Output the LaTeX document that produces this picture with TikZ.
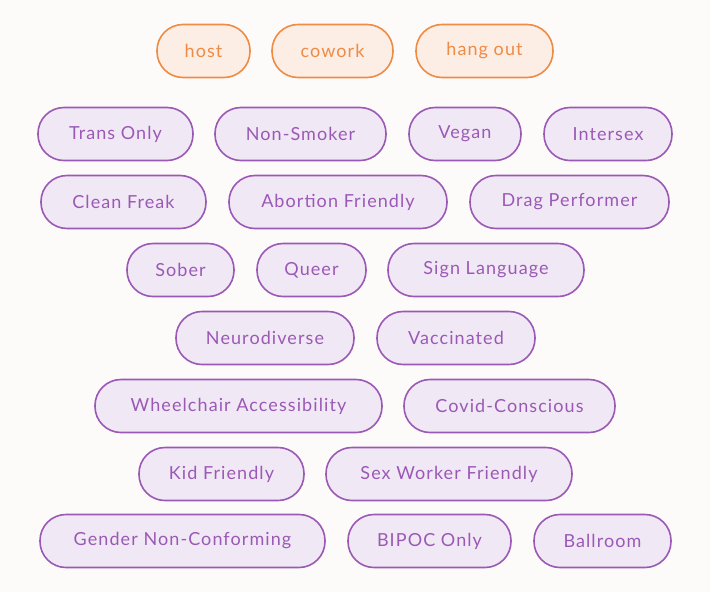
\documentclass[tikz,border=0pt]{standalone}
\usepackage{fontspec}
\setmainfont{Lato}[LetterSpace=6]
\definecolor{bgc}{HTML}{FDFBFA}
\definecolor{orfill}{HTML}{FDEEE5}
\definecolor{ordraw}{HTML}{EE8B45}
\definecolor{pufill}{HTML}{F1E8F5}
\definecolor{pudraw}{HTML}{9B59B6}
\tikzset{
  pill/.style={draw=pudraw, fill=pufill, text=pudraw, line width=1.6pt,
    rounded corners=26pt, minimum height=53pt, inner sep=0pt,
    font=\fontsize{18}{20}\selectfont},
  hostpill/.style={pill, draw=ordraw, fill=orfill, text=ordraw}
}
\begin{document}
\begin{tikzpicture}[x=1pt,y=-1pt]
\fill[bgc] (0,0) rectangle (710,592);
% top row
\node[hostpill, minimum width=93pt] (host) at (203.5,51) {host};
\node[hostpill, minimum width=121pt] (cowork) at (332.5,51) {cowork};
\node[hostpill, minimum width=137pt] (hangout) at (484.5,51) {hang out};
% tags
\node[pill, minimum width=155pt] (trans) at (115.5,134) {Trans Only};
\node[pill, minimum width=171pt] (smoker) at (300.5,134) {Non-Smoker};
\node[pill, minimum width=112pt] (vegan) at (465,134) {Vegan};
\node[pill, minimum width=128pt] (intersex) at (608,134) {Intersex};
\node[pill, minimum width=165pt] (clean) at (123.5,202) {Clean Freak};
\node[pill, minimum width=218pt] (abortion) at (338,202) {Abortion Friendly};
\node[pill, minimum width=199pt] (drag) at (569.5,202) {Drag Performer};
\node[pill, minimum width=107pt] (sober) at (180.5,270) {Sober};
\node[pill, minimum width=109pt] (queer) at (311.5,270) {Queer};
\node[pill, minimum width=196pt] (sign) at (486,270) {Sign Language};
\node[pill, minimum width=178pt] (neuro) at (265,338) {Neurodiverse};
\node[pill, minimum width=158pt] (vacc) at (456,338) {Vaccinated};
\node[pill, minimum width=287pt] (wheel) at (238.5,406) {Wheelchair Accessibility};
\node[pill, minimum width=211pt] (covid) at (509.5,406) {Covid-Conscious};
\node[pill, minimum width=165pt] (kid) at (221.5,474) {Kid Friendly};
\node[pill, minimum width=246pt] (sexwork) at (449,474) {Sex Worker Friendly};
\node[pill, minimum width=285pt] (gender) at (182.5,541) {Gender Non-Conforming};
\node[pill, minimum width=163pt] (bipoc) at (429.5,541) {BIPOC Only};
\node[pill, minimum width=137pt] (ball) at (602.5,541) {Ballroom};
\end{tikzpicture}
\end{document}
